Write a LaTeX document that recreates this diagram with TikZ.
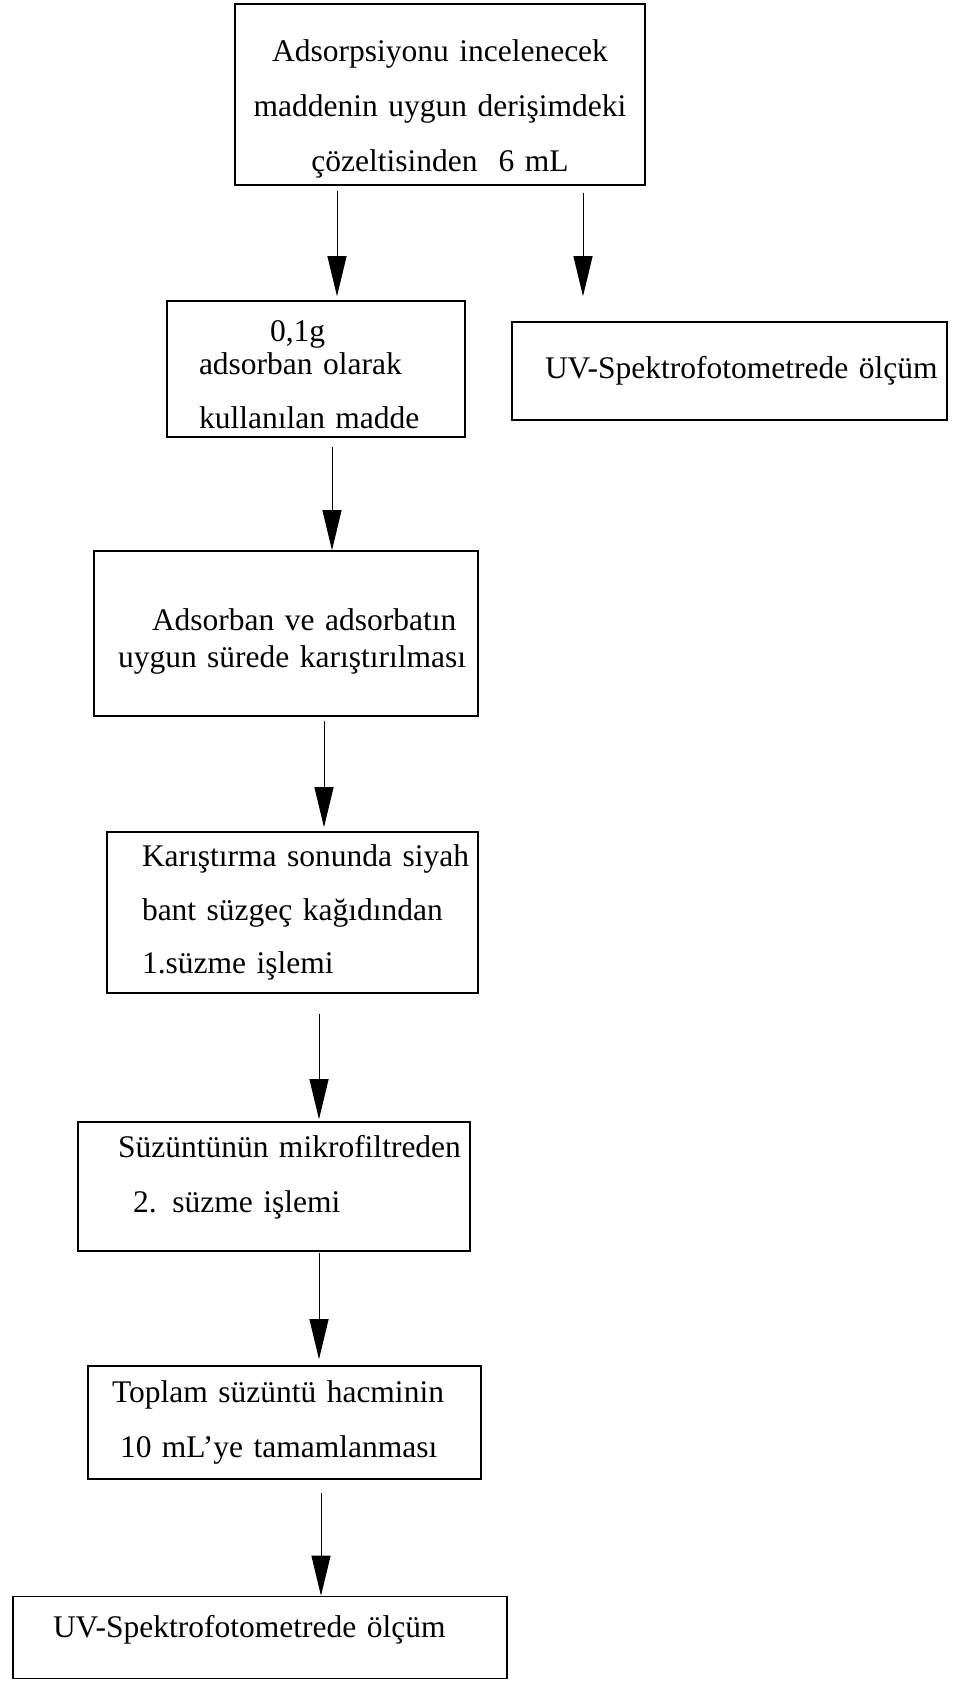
\documentclass[tikz,border=0pt]{standalone}
\usepackage{fontspec}
\setmainfont{Liberation Serif}
\usetikzlibrary{arrows.meta}

\newcommand{\ustpay}[1]{\rule{0pt}{#1}}
\newcommand{\altpay}[1]{\rule[-#1]{0pt}{#1}}

\tikzset{
  kutu/.style={draw, line width=0.8pt, inner sep=0pt, font=\fontsize{15.75pt}{27.5pt}\selectfont},
  ok/.style={line width=0.5pt, -{Triangle[length=20pt,width=9.5pt]}}
}

\begin{document}
\begin{tikzpicture}[x=0.5pt, y=-0.5pt]
        \useasboundingbox (0,0) rectangle (970,1681);

        % Kutular
        \node[kutu, minimum width=205pt, minimum height=90.5pt, text width=205pt, align=center] (adsorbat) at (440,94.5)
            {\ustpay{25.8pt}Adsorpsiyonu incelenecek\\ maddenin uygun derişimdeki\\ çözeltisinden\ \ 6 mL};
        \node[kutu, minimum width=149pt, minimum height=68pt, text width=149pt, align=left,
              font=\fontsize{15.75pt}{27pt}\selectfont] (adsorban) at (316,369)
            {\leftskip=16pt\relax\ustpay{16.1pt}\hspace*{35.5pt}0,1g\\[-10.5pt] adsorban olarak\\ kullanılan madde\par};
        \node[kutu, minimum width=217.5pt, minimum height=49pt, text width=217.5pt, align=left] (olcum1) at (729.5,371)
            {\leftskip=16.5pt\relax UV-Spektrofotometrede ölçüm\par};
        \node[kutu, minimum width=192pt, minimum height=82.5pt, text width=192pt, align=left,
              font=\fontsize{15.75pt}{18.5pt}\selectfont] (karistirma) at (286,633.5)
            {\leftskip=12pt\relax\ustpay{18.4pt}\hspace*{17pt}Adsorban ve adsorbatın\\ uygun sürede karıştırılması\par};
        \node[kutu, minimum width=185.5pt, minimum height=80.5pt, text width=185.5pt, align=left,
              font=\fontsize{15.75pt}{26.75pt}\selectfont] (suzme1) at (292.5,912.5)
            {\leftskip=17.5pt\relax Karıştırma sonunda siyah\\ bant süzgeç kağıdından\\ 1.süzme işlemi\par};
        \node[kutu, minimum width=196pt, minimum height=64.5pt, text width=196pt, align=left] (suzme2) at (274,1186.5)
            {\leftskip=20pt\relax Süzüntünün mikrofiltreden\\ \hspace*{7.5pt}2. süzme işlemi\altpay{12.2pt}\par};
        \node[kutu, minimum width=196.5pt, minimum height=56.5pt, text width=196.5pt, align=left] (hacim) at (284.5,1422.5)
            {\leftskip=12pt\relax Toplam süzüntü hacminin\\ \hspace*{4pt}10 mL’ye tamamlanması\par};
        \node[kutu, minimum width=247pt, minimum height=41pt, text width=247pt, align=left] (olcum2) at (260,1637.5)
            {\leftskip=20pt\relax UV-Spektrofotometrede ölçüm\altpay{11.4pt}\par};

        % Oklar
        \foreach \bas/\son/\kay/\bosluk/\ucbosluk in {adsorbat/adsorban/-51.5pt/2.5pt/2pt, adsorbat/olcum1/71.5pt/3.5pt/12.5pt,
            adsorban/karistirma/8pt/4.5pt/0pt, karistirma/suzme1/19pt/2pt/2pt, suzme1/suzme2/13.25pt/10pt/1pt,
            suzme2/hacim/22.5pt/0.5pt/3pt, hacim/olcum2/18.25pt/6.5pt/0pt}
        {
            \draw[ok, shorten <=\bosluk, shorten >=\ucbosluk] ([xshift=\kay]\bas.south) -- ([xshift=\kay]\bas.south |- \son.north);
        }
\end{tikzpicture}
\end{document}
